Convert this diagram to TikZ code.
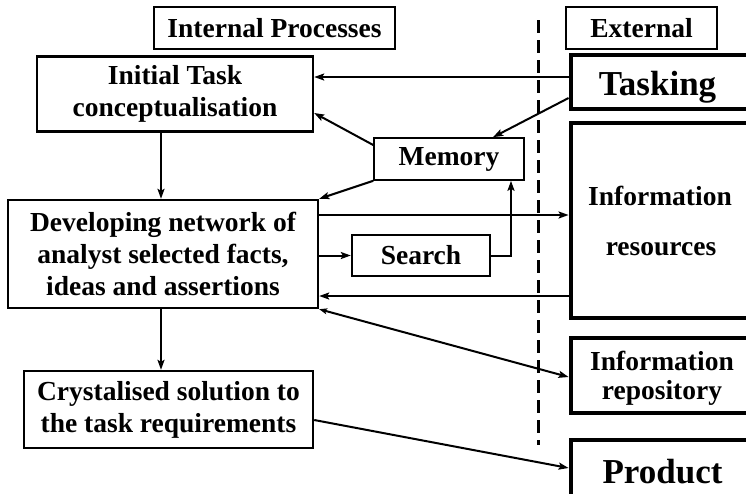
\documentclass[tikz,border=0pt]{standalone}
\usepackage{fontspec}
\setmainfont{Liberation Serif}
\usetikzlibrary{arrows.meta}
\begin{document}
\begin{tikzpicture}[x=1pt,y=-1pt,
  txt/.style={font=\fontsize{27.5pt}{32pt}\selectfont\bfseries, align=center, inner sep=0pt},
  bigtxt/.style={font=\fontsize{35pt}{40pt}\selectfont\bfseries, inner sep=0pt, anchor=base},
  linetxt/.style={txt, anchor=base},
  thinbox/.style={draw, line width=1.6pt, txt},
  midbox/.style={draw, line width=2.4pt, txt},
  thickbox/.style={draw, line width=4.8pt, inner sep=0pt},
  arr/.style={line width=2pt, -{Stealth[length=10pt,width=7pt,inset=2pt]}},
  arrboth/.style={line width=2pt, {Stealth[length=8pt,width=6pt,inset=2pt]}-{Stealth[length=10pt,width=7pt,inset=2pt]}},
  divider/.style={line width=3pt, dash pattern=on 13pt off 7pt},
]
\useasboundingbox (0,0) rectangle (746,493);
\clip (0,0) rectangle (746,493);
\fill[white] (0,0) rectangle (746,493);

% internal boxes
\node[thinbox, minimum width=241pt, minimum height=42pt] (intp) at (274.5,28) {Internal Processes};
\node[thinbox, minimum width=151pt, minimum height=42pt] (ext) at (641.5,28) {External};
\node[midbox, minimum width=276pt, minimum height=75pt] (init) at (175,94) {Initial Task\\conceptualisation};
\node[thinbox, minimum width=150pt, minimum height=42pt] (mem) at (449,159) {Memory};
\node[midbox, minimum width=310pt, minimum height=108pt] (dev) at (163,254) {Developing network of\\analyst selected facts,\\ideas and assertions};
\node[midbox, minimum width=138pt, minimum height=41pt] (search) at (421,255.5) {Search};
\node[midbox, minimum width=289pt, minimum height=77pt] (cryst) at (168.5,409.5) {Crystalised solution to\\the task requirements};

% external boxes (cut at the right edge)
\node[thickbox, minimum width=200pt, minimum height=54pt] (task) at (671,82) {};
\node[thickbox, minimum width=200pt, minimum height=195pt] (inres) at (671,220.5) {};
\node[thickbox, minimum width=200pt, minimum height=75pt] (inrep) at (671,375.5) {};
\node[thickbox, minimum width=200pt, minimum height=80pt] (prod) at (671,480) {};

\node[bigtxt] (tasktxt) at (657.5,95) {Tasking};
\node[linetxt] (inrestxta) at (660,205) {Information};
\node[linetxt] (inrestxtb) at (661,255) {resources};
\node[linetxt] (inreptxta) at (662,370) {Information};
\node[linetxt] (inreptxtb) at (662,399) {repository};
\node[bigtxt] (prodtxt) at (662.5,483) {Product};

% divider
\draw[divider] (538,20) -- (538,445);

% connectors
\draw[arr] (task.west |- 0,77) -- (init.east |- 0,77);
\draw[arr] (task.west |- 0,98) -- (mem.north -| 493,0);
\draw[arr] (mem.west |- 0,145) -- (init.east |- 0,113);
\draw[arr] (mem.south west) -- (dev.north east);
\draw[arr] (init.south -| 161,0) -- (dev.north -| 161,0);
\draw[arr] (dev.east |- 0,215) -- (inres.west |- 0,215);
\draw[arr] (dev.east |- 0,255.5) -- (search.west);
\draw[arr] (search.east) -| (mem.south -| 511,0);
\draw[arr] (inres.west |- 0,296) -- (dev.east |- 0,296);
\draw[arrboth] (dev.south east) -- (inrep.west |- 0,377);
\draw[arr] (dev.south -| 161,0) -- (cryst.north -| 161,0);
\draw[arr] (cryst.east |- 0,420) -- (prod.west |- 0,468);
\end{tikzpicture}
\end{document}
